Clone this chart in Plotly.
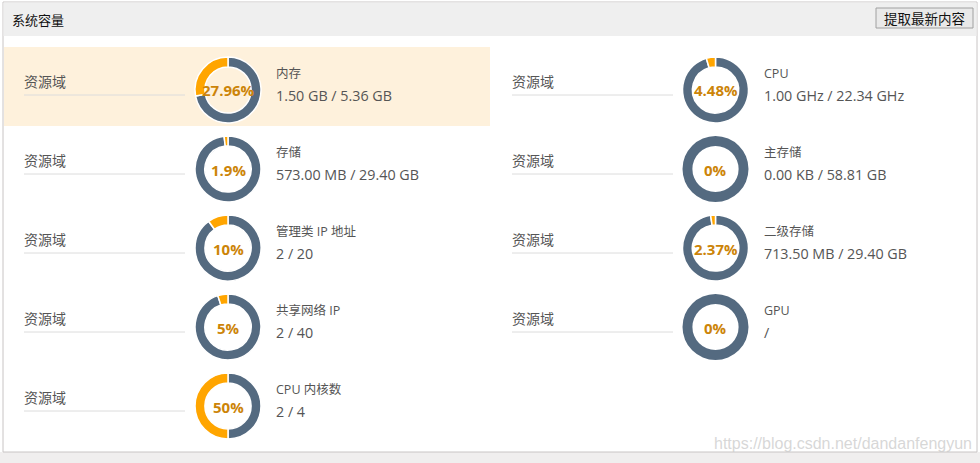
import plotly.graph_objects as go

W, H = 980, 463

# ---- data ----
metric_names = ["内存", "CPU", "存储", "主存储", "管理类 IP 地址", "二级存储", "共享网络 IP", "GPU", "CPU 内核数"]
percent_values = [27.96, 4.48, 1.9, 0, 10, 2.37, 5, 0, 50]
percent_labels = ["27.96%", "4.48%", "1.9%", "0%", "10%", "2.37%", "5%", "0%", "50%"]
usage_labels = ["1.50 GB / 5.36 GB", "1.00 GHz / 22.34 GHz", "573.00 MB / 29.40 GB", "0.00 KB / 58.81 GB",
                "2 / 20", "713.50 MB / 29.40 GB", "2 / 40", "/", "2 / 4"]
row_label = "资源域"
panel_title = "系统容量"
button_label = "提取最新内容"
watermark = "https://blog.csdn.net/dandanfengyun"

# ---- layout constants (pixels) ----
ORANGE = "#ffa500"
SLATE = "#546a80"
PCT_COLOR = "#cc8408"
TEXT = "#555555"
FONT = "Open Sans, Noto Sans CJK SC, sans-serif"
CJK = "Noto Sans CJK SC, Open Sans, sans-serif"

col_label_x = [22, 510]
col_line_x0 = [24, 512]
col_line_x1 = [185, 673]
col_donut_x = [228, 715.5]
col_text_x = [274, 762]
row_y0 = 90
row_step = 79
R = 33


def px(x):
    return x / W


def py(y):
    return 1 - y / H


fig = go.Figure()
shapes = []
annotations = []

# page / panel background
shapes.append(dict(type="rect", xref="paper", yref="paper", x0=px(0), x1=px(W), y0=py(H), y1=py(452),
                   fillcolor="#f0eeee", line=dict(width=0), layer="below"))
shapes.append(dict(type="rect", xref="paper", yref="paper", x0=px(3), x1=px(977), y0=py(452), y1=py(2),
                   fillcolor="white", line=dict(color="#c8c4c4", width=1), layer="below"))
shapes.append(dict(type="rect", xref="paper", yref="paper", x0=px(3.5), x1=px(976.5), y0=py(36), y1=py(2.5),
                   fillcolor="#efefef", line=dict(width=0), layer="below"))
# highlighted row
shapes.append(dict(type="rect", xref="paper", yref="paper", x0=px(4), x1=px(490), y0=py(126), y1=py(47),
                   fillcolor="#fef1dc", line=dict(width=0), layer="below"))
# button
shapes.append(dict(type="rect", xref="paper", yref="paper", x0=px(876), x1=px(973), y0=py(28), y1=py(8),
                   fillcolor="#e9e9e9", line=dict(color="#a0a0a0", width=1), layer="below"))

annotations.append(dict(x=px(10), y=py(19), xref="paper", yref="paper", text=panel_title, showarrow=False,
                        xanchor="left", yanchor="middle", font=dict(family=CJK, size=13, color="#111")))
annotations.append(dict(x=px(924.5), y=py(18), xref="paper", yref="paper", text=button_label, showarrow=False,
                        xanchor="center", yanchor="middle", font=dict(family=CJK, size=13.5, color="#111")))
annotations.append(dict(x=px(974), y=py(443), xref="paper", yref="paper", text=watermark, showarrow=False,
                        xanchor="right", yanchor="middle", font=dict(family="Liberation Sans, Arial", size=16,
                                                                      color="rgba(205,205,205,0.8)")))

for i, (name, pv, pl, us) in enumerate(zip(metric_names, percent_values, percent_labels, usage_labels)):
    col = i % 2
    row = i // 2
    cy = row_y0 + row * row_step
    cx = col_donut_x[col]
    # free part first (clockwise from 12 o'clock), used part ends at 12 o'clock on the left side
    fig.add_trace(go.Pie(
        values=[100 - pv, pv],
        labels=["free", "used"],
        hole=0.70,
        sort=False,
        direction="clockwise",
        rotation=0,
        textinfo="none",
        hoverinfo="none",
        showlegend=False,
        marker=dict(colors=[SLATE, ORANGE], line=dict(color="white", width=1.5 if pv > 0 else 0)),
        domain=dict(x=[px(cx - R), px(cx + R)], y=[py(cy + R), py(cy - R)]),
    ))
    annotations.append(dict(x=px(cx), y=py(cy + 0.5), xref="paper", yref="paper", text="<b>%s</b>" % pl,
                            showarrow=False, xanchor="center", yanchor="middle",
                            font=dict(family=FONT, size=15, color=PCT_COLOR)))
    # left label + underline
    annotations.append(dict(x=px(col_label_x[col]), y=py(cy - 9), xref="paper", yref="paper", text=row_label,
                            showarrow=False, xanchor="left", yanchor="middle",
                            font=dict(family=CJK, size=14, color=TEXT)))
    shapes.append(dict(type="line", xref="paper", yref="paper", x0=px(col_line_x0[col]), x1=px(col_line_x1[col]),
                       y0=py(cy + 5), y1=py(cy + 5), line=dict(color="#dcdcdc", width=1), layer="below"))
    # title and usage
    annotations.append(dict(x=px(col_text_x[col]), y=py(cy - 16.5), xref="paper", yref="paper", text=name,
                            showarrow=False, xanchor="left", yanchor="middle",
                            font=dict(family=FONT, size=12.5, color=TEXT)))
    annotations.append(dict(x=px(col_text_x[col]), y=py(cy + 5), xref="paper", yref="paper", text=us,
                            showarrow=False, xanchor="left", yanchor="middle",
                            font=dict(family=FONT, size=14.3, color=TEXT)))

fig.update_layout(
    width=W, height=H,
    margin=dict(l=0, r=0, t=0, b=0),
    paper_bgcolor="white",
    plot_bgcolor="white",
    shapes=shapes,
    annotations=annotations,
)

fig.write_html("out.html", config={"displayModeBar": False})
